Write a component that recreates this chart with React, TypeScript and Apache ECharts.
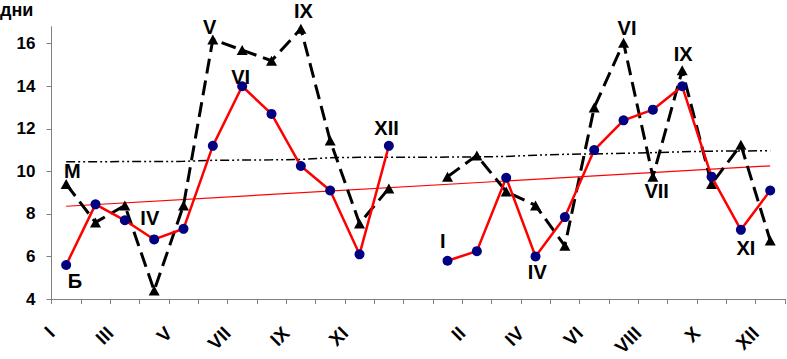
import React, { useEffect, useRef } from 'react';
import * as echarts from 'echarts';

const FONT = 'Arial, "Liberation Sans", sans-serif';

const months = ['I', 'II', 'III', 'IV', 'V', 'VI', 'VII', 'VIII', 'IX', 'X', 'XI', 'XII'];
// 12 months, one empty gap category, 12 months
const categories = [...months.map((m) => m + '-1'), '', ...months.map((m) => m + '-2')];

// tick labels sit on category boundaries (26 boundaries for 25 categories)
const tickLabels = [
  'I', '', 'III', '', 'V', '', 'VII', '', 'IX', '', 'XI', '', '',
  '', 'II', '', 'IV', '', 'VI', '', 'VIII', '', 'X', '', 'XII', '',
];
const yTicks = [4, 6, 8, 10, 12, 14, 16];

const redYear1 = [5.6, 8.45, 7.7, 6.8, 7.3, 11.2, 14.0, 12.7, 10.25, 9.1, 6.1, 11.2];
const redYear2 = [5.8, 6.25, 9.7, 6.0, 7.85, 11.0, 12.4, 12.9, 14.0, 9.75, 7.25, 9.1];
const blackYear1 = [9.4, 7.6, 8.4, 4.4, 8.4, 16.2, 15.7, 15.2, 16.7, 11.45, 7.55, 9.2];
const blackYear2 = [9.75, 10.75, 9.05, 8.4, 6.5, 13.0, 16.05, 9.75, 14.75, 9.4, 11.25, 6.75];

const trendStart = 8.36;
const trendEnd = 10.26;

const dashDot = [
  10.45, 10.45, 10.46, 10.46, 10.47, 10.52, 10.53, 10.54, 10.56, 10.64, 10.66, 10.66, 10.66,
  10.67, 10.68, 10.7, 10.76, 10.8, 10.82, 10.85, 10.88, 10.92, 10.95, 10.96, 10.97,
];

// annotations: text and position in data units (x = category index, y = value)
const annTexts = ['М', 'Б', 'IV', 'V', 'VI', 'IX', 'XII', 'I', 'IV', 'VI', 'IX', 'VII', 'XI'];
const annX = [0.21, 0.3, 2.85, 4.89, 5.95, 8.09, 10.92, 12.84, 16.06, 19.12, 21.03, 20.13, 23.17];
const annY = [10.04, 4.86, 7.82, 16.8, 14.45, 17.55, 12.06, 6.74, 5.29, 16.76, 15.52, 9.06, 6.39];

const redSeries = [...redYear1, null, ...redYear2];
const blackSeries = [...blackYear1, null, ...blackYear2];
const trendData = categories.map((_, i) =>
  i === 0 ? trendStart : i === categories.length - 1 ? trendEnd : null
);

export default function App() {
  const ref = useRef<HTMLDivElement>(null);

  useEffect(() => {
    if (!ref.current) return;
    const chart = echarts.init(ref.current, undefined, { renderer: 'svg' });
    const axisGray = '#808080';
    chart.setOption({
      animation: false,
      backgroundColor: '#ffffff',
      textStyle: { fontFamily: FONT },
      grid: { left: 51.5, right: 1, top: 26.7, bottom: 53.3, containLabel: false },
      graphic: [
        {
          type: 'text',
          x: 0,
          y: 9.5,
          style: {
            text: 'дни',
            fontSize: 18,
            fontWeight: 'bold',
            fontFamily: FONT,
            fill: '#000',
            align: 'left',
            verticalAlign: 'middle',
            textAlign: 'left',
            textVerticalAlign: 'middle',
          },
        },
      ],
      xAxis: [
        {
          type: 'category',
          data: categories,
          boundaryGap: true,
          axisLine: { show: true, onZero: false, lineStyle: { color: axisGray, width: 1 } },
          axisTick: { show: true, interval: 0, length: 5, lineStyle: { color: axisGray } },
          axisLabel: { show: false },
          splitLine: { show: false },
        },
        {
          type: 'category',
          data: tickLabels,
          boundaryGap: false,
          position: 'bottom',
          axisLine: { show: false, onZero: false },
          axisTick: { show: false },
          axisLabel: {
            interval: 0,
            rotate: 45,
            margin: 31,
            color: '#000',
            fontSize: 19,
            fontWeight: 'bold',
            fontFamily: FONT,
          },
          splitLine: { show: false },
        },
        {
          type: 'value',
          min: -0.5,
          max: 24.5,
          show: false,
          axisLine: { onZero: false },
          splitLine: { show: false },
        },
      ],
      yAxis: {
        type: 'value',
        min: 4,
        max: 16.8,
        interval: 2,
        axisLine: { show: true, onZero: false, lineStyle: { color: axisGray, width: 1 } },
        axisTick: { show: true, length: 5, customValues: yTicks, lineStyle: { color: axisGray } },
        axisLabel: {
          customValues: yTicks,
          margin: 16,
          color: '#000',
          fontSize: 17,
          fontWeight: 'bold',
          fontFamily: FONT,
        },
        splitLine: { show: false },
      },
      series: [
        {
          type: 'line',
          data: trendData,
          connectNulls: true,
          symbol: 'none',
          lineStyle: { color: '#ff0000', width: 1.2 },
          z: 1,
        },
        {
          type: 'line',
          data: dashDot,
          symbol: 'none',
          lineStyle: { color: '#000', width: 1.5, type: [9, 3, 2, 3, 2, 3] },
          z: 1,
        },
        {
          type: 'line',
          data: blackSeries,
          symbol: 'triangle',
          symbolSize: [11, 10],
          lineStyle: { color: '#000', width: 3, type: [15, 7] },
          itemStyle: { color: '#000' },
          z: 2,
        },
        {
          type: 'line',
          data: redSeries,
          symbol: 'circle',
          symbolSize: 10,
          lineStyle: { color: '#ff0000', width: 2.5 },
          itemStyle: { color: '#000080' },
          z: 3,
        },
        {
          type: 'scatter',
          xAxisIndex: 2,
          clip: false,
          symbolSize: 1,
          itemStyle: { color: 'rgba(0,0,0,0)', opacity: 1 },
          data: annTexts.map((t, i) => ({ name: t, value: [annX[i], annY[i]] })),
          label: {
            show: true,
            position: 'inside',
            formatter: '{b}',
            color: '#000',
            opacity: 1,
            fontSize: 20,
            fontWeight: 'bold',
            fontFamily: FONT,
          },
          emphasis: { disabled: true },
          z: 5,
        },
      ],
    });
    return () => chart.dispose();
  }, []);

  return (
    <div
      ref={ref}
      style={{ position: 'fixed', left: 0, top: 0, width: 787, height: 359, background: '#fff' }}
    />
  );
}
